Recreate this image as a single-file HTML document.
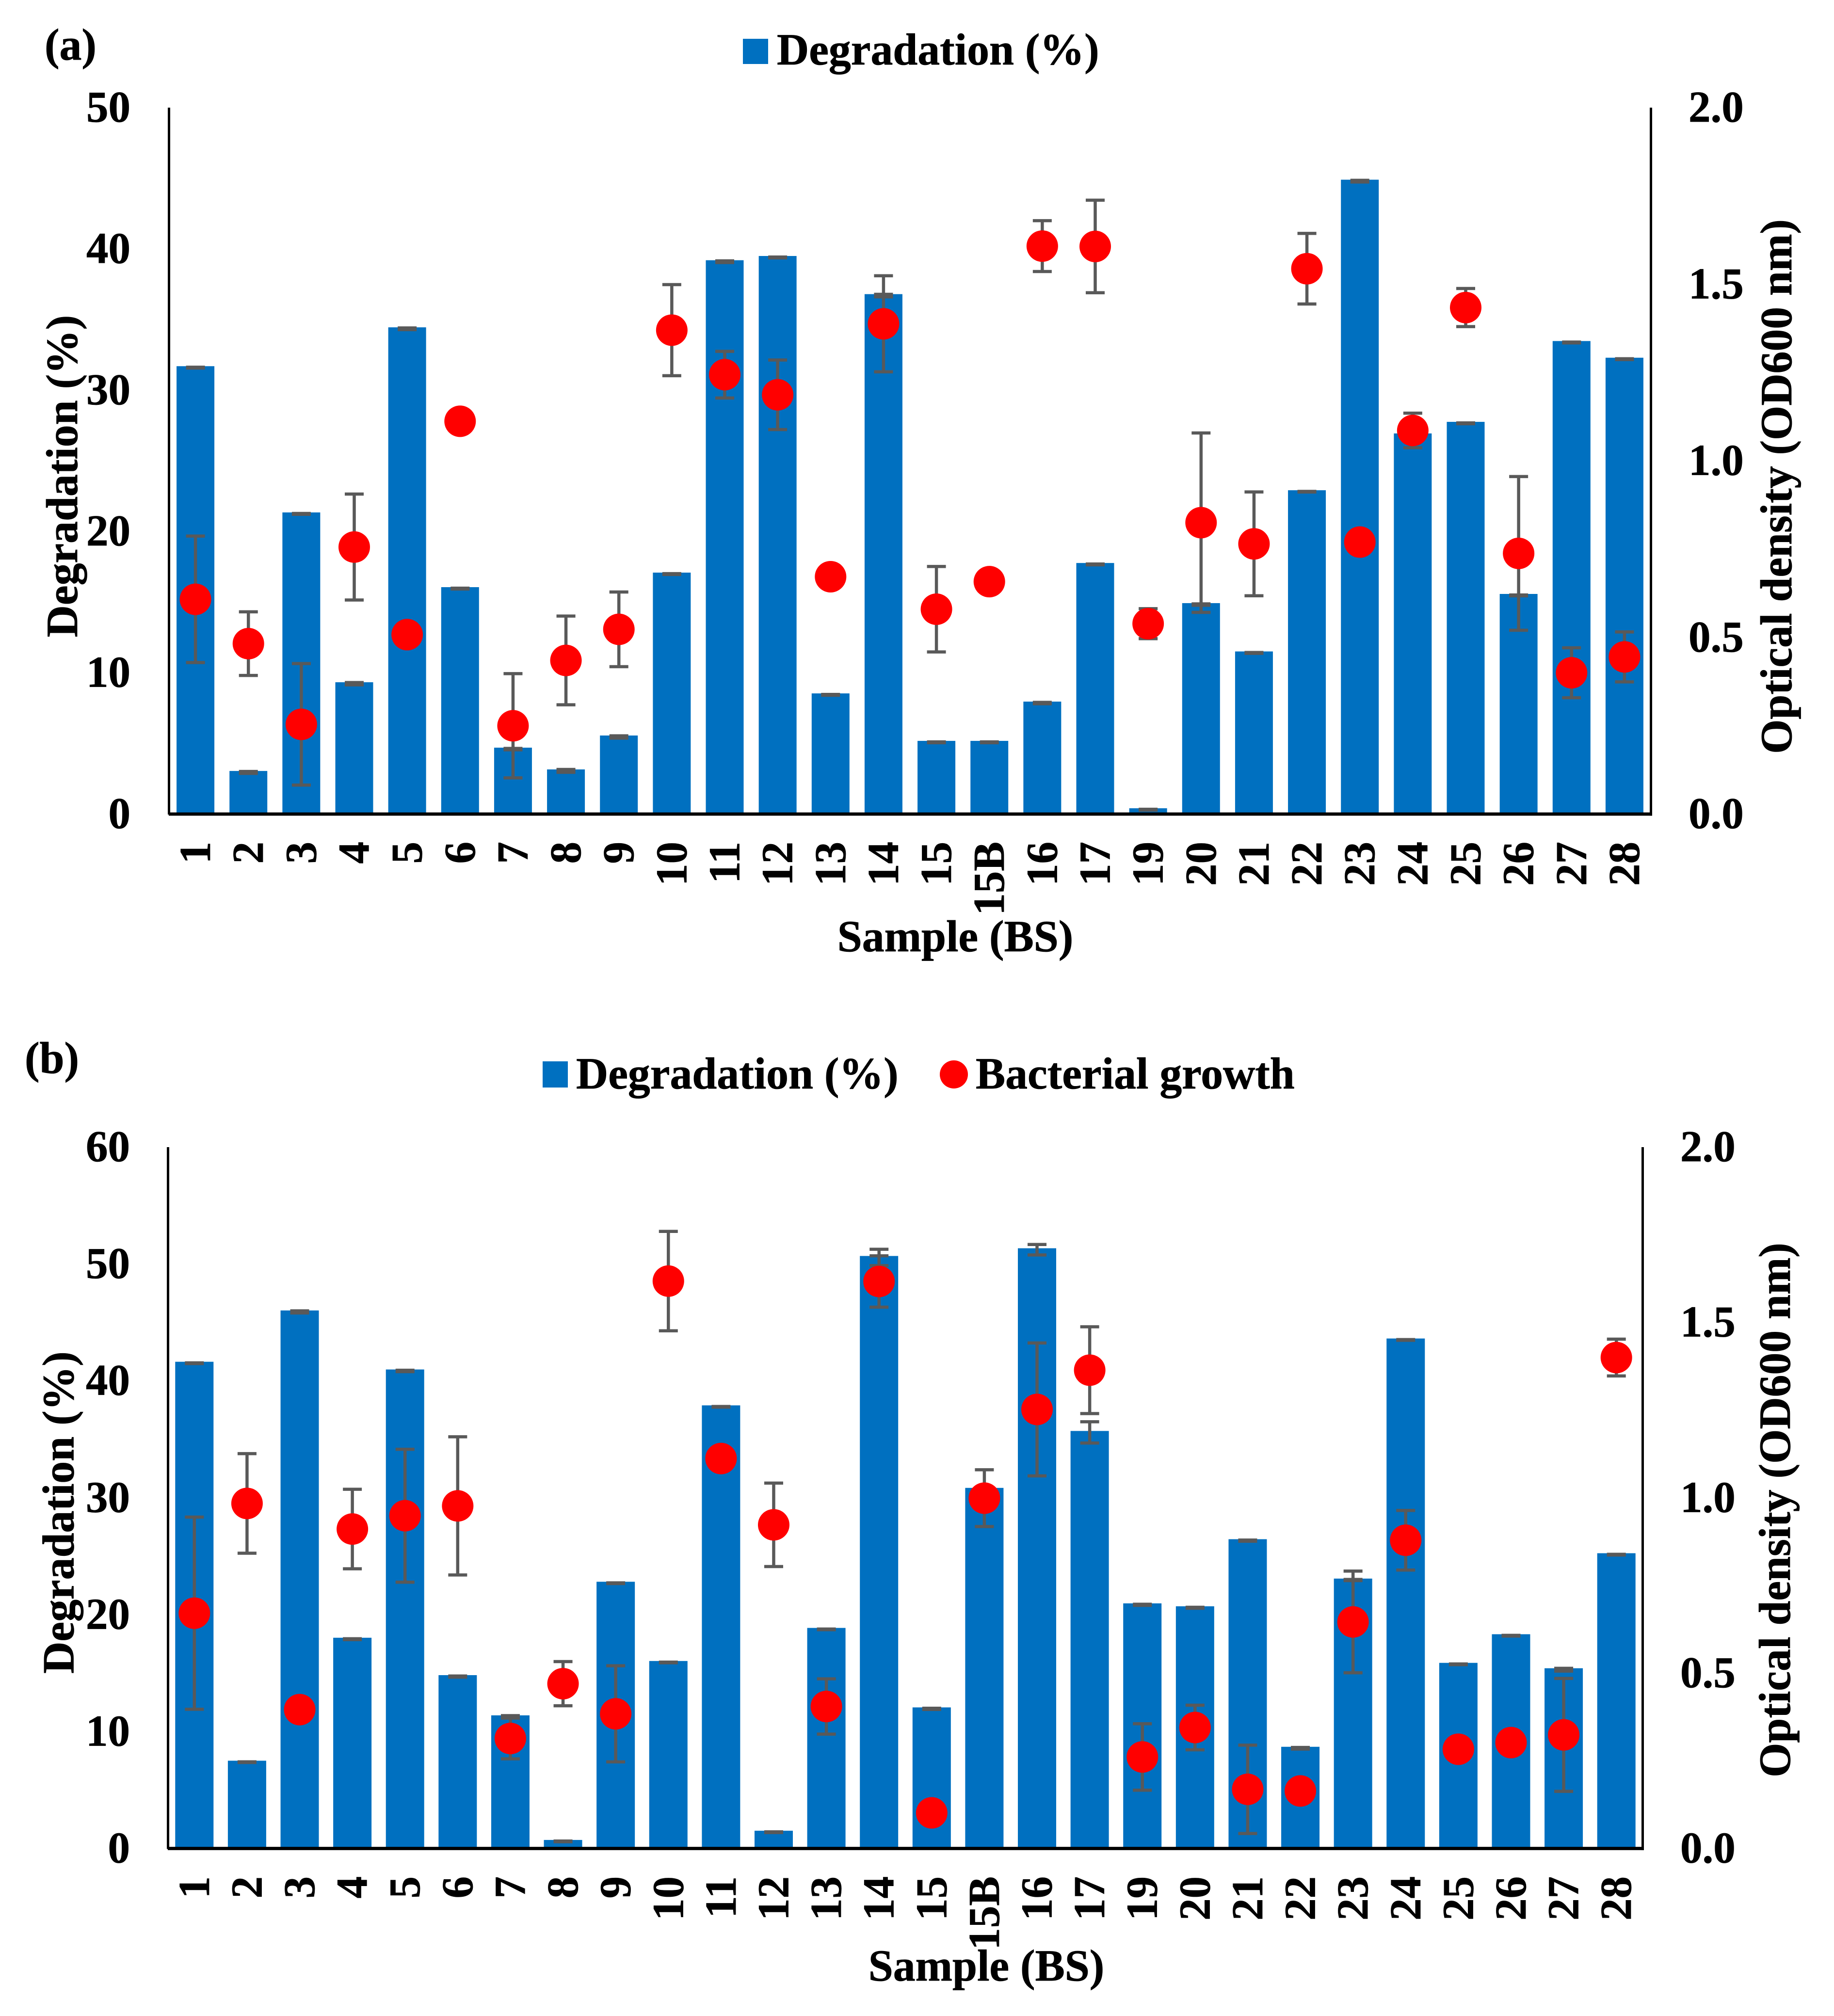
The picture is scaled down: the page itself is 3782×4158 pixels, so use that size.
<!DOCTYPE html>
<html lang="en">
<head>
<meta charset="utf-8">
<title>Degradation and bacterial growth by sample</title>
<style>
html,body{margin:0;padding:0;background:#fff;}
svg{display:block;}
text{font-family:"Liberation Serif",serif;font-weight:bold;fill:#000;stroke:#000;stroke-width:0.8px;}
.tick{font-size:91px;}
.title{font-size:91.7px;}
</style>
</head>
<body>
<svg id="figure" xmlns="http://www.w3.org/2000/svg" width="3782" height="4158" viewBox="0 0 3782 4158">
  <rect x="0" y="0" width="3782" height="4158" fill="#ffffff"/>

  <g id="panel-a"></g>
  <g id="panel-b"></g>

  <text class="title" x="92" y="123">(a)</text>
  <rect x="1532" y="80" width="52" height="52" fill="#0070C0"/>
  <text class="title" x="1602" y="133">Degradation (%)</text>
  <text class="title" text-anchor="middle" transform="translate(159,982) rotate(-90)">Degradation (%)</text>
  <text class="title" text-anchor="middle" transform="translate(3694,1003.5) rotate(-90)">Optical density (OD600 nm)</text>
  <text class="title" text-anchor="middle" x="1970" y="1962">Sample (BS)</text>

  <text class="title" x="51" y="2213">(b)</text>
  <rect x="1119" y="2189" width="52" height="54" fill="#0070C0"/>
  <text class="title" x="1188" y="2245">Degradation (%)</text>
  <circle cx="1967" cy="2216" r="29" fill="#FF0000"/>
  <text class="title" x="2012" y="2245">Bacterial growth</text>
  <text class="title" text-anchor="middle" transform="translate(151.5,3119.5) rotate(-90)">Degradation (%)</text>
  <text class="title" text-anchor="middle" transform="translate(3691,3114.5) rotate(-90)">Optical density (OD600 nm)</text>
  <text class="title" text-anchor="middle" x="2034" y="4085">Sample (BS)</text>
</svg>

<script>
const categories = ['1','2','3','4','5','6','7','8','9','10','11','12','13','14','15','15B','16','17','19','20','21','22','23','24','25','26','27','28'];

const degradationA = [31.7,3.05,21.35,9.33,34.45,16.06,4.7,3.16,5.56,17.09,39.2,39.5,8.54,36.8,5.18,5.18,7.96,17.77,0.41,14.93,11.51,22.92,44.9,26.94,27.76,15.58,33.48,32.3];
const degradationErrA = [0.03,0.07,0.03,0.08,0.06,0.03,0.05,0.1,0.08,0.03,0.06,0.03,0.03,0.09,0.03,0.03,0.05,0.03,0.03,0.05,0.03,0.02,0.06,0.03,0.03,0.03,0.03,0.03];
const growthA = [0.608,0.4825,0.254,0.756,0.508,1.112,0.25,0.435,0.523,1.37,1.244,1.187,0.672,1.388,0.58,0.658,1.608,1.607,0.539,0.825,0.765,1.544,0.77,1.086,1.434,0.738,0.4,0.445];
const growthErrA = [0.179,0.09,0.172,0.15,0,0,0.1476,0.1256,0.1057,0.129,0.066,0.0985,0,0.136,0.121,0,0.072,0.131,0.0425,0.254,0.147,0.1,0,0.049,0.054,0.2176,0.0707,0.0707];
const leftTicksA = [0,10,20,30,40,50];

const degradationB = [41.64,7.51,46.03,18.03,40.98,14.83,11.39,0.73,22.82,16.04,37.91,1.52,18.87,50.69,12.07,30.85,51.35,35.72,20.97,20.72,26.46,8.7,23.09,43.63,15.88,18.33,15.42,25.26];
const degradationErrB = [0.03,0.03,0.09,0.04,0.06,0.05,0.1,0.03,0.03,0.03,0.03,0.03,0.03,0.7,0.05,0.03,0.45,0.91,0.05,0.04,0.05,0.07,0.05,0.03,0.03,0.03,0.12,0.03];
const growthB = [0.671,0.984,0.396,0.911,0.949,0.977,0.3137,0.47,0.384,1.618,1.112,0.923,0.405,1.617,0.1016,0.999,1.252,1.364,0.261,0.345,0.1687,0.164,0.646,0.879,0.283,0.302,0.324,1.4];
const growthErrB = [0.274,0.142,0,0.1134,0.1895,0.197,0.058,0.063,0.137,0.1417,0,0.119,0.0788,0.0732,0,0.081,0.1895,0.1237,0.0947,0.0636,0.126,0,0.145,0.085,0,0,0.161,0.0525];
const leftTicksB = [0,10,20,30,40,50,60];

const rightTicks = ['0.0','0.5','1.0','1.5','2.0'];

const SVG_NS = 'http://www.w3.org/2000/svg';
const BAR_COLOR = '#0070C0';
const ERR_COLOR = '#595959';
const MARKER_COLOR = '#FF0000';

function make(tag, attrs, parent) {
  const el = document.createElementNS(SVG_NS, tag);
  Object.keys(attrs).forEach(function (k) { el.setAttribute(k, attrs[k]); });
  parent.appendChild(el);
  return el;
}

function drawPanel(root, prefix, g, degradation, degradationErr, growth, growthErr, leftTicks) {
  const leftMax = Number(leftTicks[leftTicks.length - 1]);
  const rightMax = Number(rightTicks[rightTicks.length - 1]);
  const band = (g.right - g.left) / categories.length;
  const xScale = function (i) { return g.left + band * (i + 0.5); };
  const yLeft = function (v) { return g.bottom - (v / leftMax) * (g.bottom - g.top); };
  const yRight = function (v) { return g.bottom - (v / rightMax) * (g.bottom - g.top); };

  categories.forEach(function (c, i) {
    const y = yLeft(degradation[i]);
    const bar = make('rect', { x: xScale(i) - g.barWidth / 2, y: y, width: g.barWidth, height: g.bottom - y, fill: BAR_COLOR }, root);
    
    
  });

  categories.forEach(function (c, i) {
    const cx = xScale(i);
    const hi = yLeft(degradation[i] + degradationErr[i]) + 3;
    const lo = yLeft(degradation[i] - degradationErr[i]) + 3;
    const err = make('path', {
      d: 'M' + cx + ' ' + hi + 'V' + lo + 'M' + (cx - 19.5) + ' ' + hi + 'H' + (cx + 19.5) + 'M' + (cx - 19.5) + ' ' + lo + 'H' + (cx + 19.5),
      stroke: ERR_COLOR, 'stroke-width': 6.5, fill: 'none'
    }, root);
    
    
  });

  categories.forEach(function (c, i) {
    if (!growthErr[i]) { return; }
    const cx = xScale(i);
    const hi = yRight(growth[i] + growthErr[i]);
    const lo = yRight(growth[i] - growthErr[i]);
    const err = make('path', {
      d: 'M' + cx + ' ' + hi + 'V' + lo + 'M' + (cx - 19.5) + ' ' + hi + 'H' + (cx + 19.5) + 'M' + (cx - 19.5) + ' ' + lo + 'H' + (cx + 19.5),
      stroke: ERR_COLOR, 'stroke-width': 6.5, fill: 'none'
    }, root);
    
    
  });

  categories.forEach(function (c, i) {
    const pt = make('circle', { cx: xScale(i), cy: yRight(growth[i]), r: 32.5, fill: MARKER_COLOR }, root);
    
    
  });

  const axisLeft = make('line', { x1: g.left, y1: g.top, x2: g.left, y2: g.bottom + 1, stroke: '#000', 'stroke-width': 5 }, root);
  
  

  const axisRight = make('line', { x1: g.right, y1: g.top, x2: g.right, y2: g.bottom + 3.5, stroke: '#000', 'stroke-width': 5 }, root);
  
  

  const axisBottom = make('line', { x1: g.left - 0.5, y1: g.bottom, x2: g.right + 2.5, y2: g.bottom, stroke: '#000', 'stroke-width': 6.7 }, root);
  
  

  leftTicks.forEach(function (t) {
    const label = make('text', { class: 'tick', x: g.leftLabelX, y: yLeft(t) + 29, 'text-anchor': 'end' }, root);
    label.textContent = String(t);
    
    
  });

  rightTicks.forEach(function (t) {
    const label = make('text', { class: 'tick', x: g.rightLabelX, y: yRight(Number(t)) + 29 }, root);
    label.textContent = t;
    
    
  });

  categories.forEach(function (c, i) {
    const label = make('text', { class: 'tick', 'text-anchor': 'end', transform: 'translate(' + (xScale(i) + 30) + ',' + g.catLabelY + ') rotate(-90)' }, root);
    label.textContent = c;
    
    
  });
}

drawPanel(document.getElementById('panel-a'), 'panel-a',
  { left: 348.5, right: 3404.5, top: 222, bottom: 1679, barWidth: 78, leftLabelX: 269, rightLabelX: 3482, catLabelY: 1736 },
  degradationA, degradationErrA, growthA, growthErrA, leftTicksA);

drawPanel(document.getElementById('panel-b'), 'panel-b',
  { left: 346.5, right: 3387.5, top: 2366, bottom: 3812.5, barWidth: 79, leftLabelX: 268, rightLabelX: 3465, catLabelY: 3870 },
  degradationB, degradationErrB, growthB, growthErrB, leftTicksB);
</script>
</body>
</html>
